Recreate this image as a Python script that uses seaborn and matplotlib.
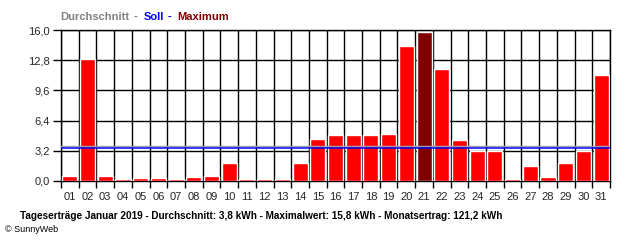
import matplotlib
matplotlib.use("Agg")
import matplotlib.pyplot as plt
from matplotlib.ticker import FixedLocator
import seaborn as sns
import pandas as pd

days = [f"{i:02d}" for i in range(1, 32)]
values = [0.53, 13.0, 0.5, 0.18, 0.25, 0.25, 0.18, 0.35, 0.53, 1.92,
          0.18, 0.18, 0.18, 1.92, 4.41, 4.9, 4.9, 4.9, 5.0, 14.3,
          15.8, 11.84, 4.3, 3.2, 3.2, 0.18, 1.6, 0.43, 1.92, 3.2, 11.2]
yticks = [0.0, 3.2, 6.4, 9.6, 12.8, 16.0]
ytick_labels = ["0,0", "3,2", "6,4", "9,6", "12,8", "16,0"]
durchschnitt = 3.65
soll = 3.45
header_parts = [("Durchschnitt", "#808080"), ("-", "#808080"), ("Soll", "#0000ff"),
                ("-", "#0000ff"), ("Maximum", "#800000")]
header_x = [60, 134, 144, 168, 177]

sns.set_theme(style="white")
plt.rcParams['font.family'] = ['Liberation Sans', 'DejaVu Sans']

df = pd.DataFrame({"day": days, "value": values})
maxv = max(values)
palette = {d: ("#800000" if v == maxv else "#ff0000") for d, v in zip(days, values)}

fig = plt.figure(figsize=(6.4, 2.4), dpi=100)
ax = fig.add_axes([61/640, 1 - 180.7/240, (610-61)/640, (180.7-30.3)/240])

sns.barplot(data=df, x="day", y="value", hue="day", palette=palette,
            legend=False, width=0.85, saturation=1, ax=ax, zorder=3)

ax.set_xlim(-0.5, 30.5)
ax.set_ylim(0, 16)
ax.set_yticks(yticks)
ax.set_yticklabels(ytick_labels, fontsize=8)
ax.xaxis.set_minor_locator(FixedLocator([i - 0.5 for i in range(32)]))
ax.tick_params(axis='x', which='major', length=0, labelsize=8, pad=8)
ax.tick_params(axis='x', which='minor', length=5, width=1, color='black', bottom=True)
ax.tick_params(axis='y', which='major', length=6, width=1, color='black', left=True, labelsize=8, pad=2)
ax.grid(True, axis='y', which='major', color='black', linewidth=1, zorder=1)
ax.grid(True, axis='x', which='minor', color='black', linewidth=1, zorder=1)
ax.set_axisbelow(True)
for s in ax.spines.values():
    s.set_color('black')
    s.set_linewidth(1)
ax.set_xlabel("")
ax.set_ylabel("")

ax.axhline(durchschnitt, color="#a0a0a0", linewidth=1.0, zorder=4)
ax.axhline(soll, color="#0000ff", linewidth=1.1, zorder=5)

for (txt, col), x in zip(header_parts, header_x):
    fig.text(x/640, 1 - 17/240, txt, color=col, fontsize=8, fontweight='bold',
             va='center', ha='left')

fig.text(20/640, 1 - 216/240,
         "Tageserträge Januar 2019 - Durchschnitt: 3,8 kWh - Maximalwert: 15,8 kWh - Monatsertrag: 121,2 kWh",
         fontsize=7.2, fontweight='bold', va='center', ha='left', color='black')
fig.text(5/640, 1 - 229/240, "© SunnyWeb", fontsize=6.5, va='center', ha='left', color='black')

fig.savefig("out.png", dpi=100)
